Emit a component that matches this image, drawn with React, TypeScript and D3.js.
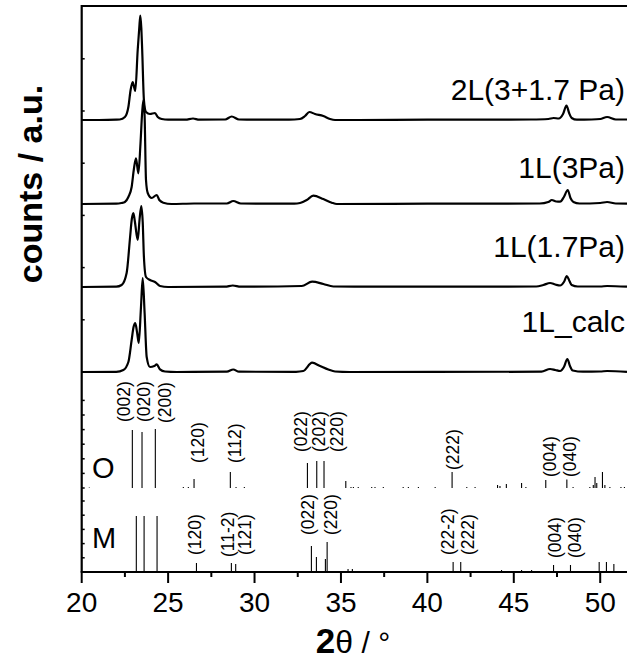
import React from "react";
import * as d3 from "d3";

// ---------- data ----------
// x axis (2θ / °)
const xTicksMajor = [20, 25, 30, 35, 40, 45, 50];
const xTicksMinor = [22.5, 27.5, 32.5, 37.5, 42.5, 47.5];

// measured patterns: [2θ, intensity (a.u.)]
const pattern2L: [number, number][] = [
  [20, 0], [21, 0], [22, 0.3], [22.2, 0.5], [22.5, 3], [22.7, 13], [22.83, 30], [22.95, 38], [23.1, 29],
  [23.24, 70], [23.33, 92], [23.39, 104.5], [23.45, 92], [23.5, 70], [23.6, 20], [23.72, 8], [23.95, 6],
  [24.24, 7], [24.4, 3], [24.63, 1], [25.0, 0.3], [26.0, 0.3], [26.44, 1.5], [26.8, 0.3], [28.3, 0.5],
  [28.68, 3.5], [29.1, 0.5], [30, 0.3], [32, 0.3], [32.63, 1], [32.92, 4], [33.17, 8], [33.5, 6],
  [33.98, 4], [34.37, 1], [34.66, 0], [36, 0], [40, 0.3], [44, 0.3], [46, 0.5], [47.0, 1], [47.3, 2],
  [47.6, 1.5], [47.85, 6], [48.05, 14.5], [48.2, 7], [48.35, 2], [48.65, 0.3], [49.5, 0.5], [50.0, 1],
  [50.4, 3], [50.9, 0.5], [51.55, 0.5],
];
const pattern1L3Pa: [number, number][] = [
  [20, 0], [22, 0.3], [22.3, 1], [22.5, 2], [22.7, 7], [22.89, 17], [23.02, 35], [23.14, 45.7],
  [23.28, 30.7], [23.4, 60], [23.5, 92], [23.57, 104], [23.64, 88], [23.72, 24], [23.82, 11],
  [24.05, 6], [24.34, 9], [24.49, 4], [24.72, 1.3], [25.2, 0], [26.5, 0.5], [28.4, 0.5], [28.77, 3],
  [29.2, 0.5], [32.3, 0.3], [32.63, 1], [33.02, 4], [33.4, 8.3], [33.98, 5], [34.47, 1.3], [34.76, 0],
  [40, 0.3], [46.5, 0.5], [47.0, 2], [47.2, 4], [47.45, 2.5], [47.68, 2.3], [47.9, 7], [48.12, 14],
  [48.28, 6], [48.45, 2], [48.8, 0.5], [50.0, 1], [50.4, 2], [50.9, 0.5], [51.55, 0.3],
];
const pattern1L17Pa: [number, number][] = [
  [20, 0], [22, 0.3], [22.31, 2], [22.6, 14], [22.8, 50], [22.9, 68], [22.99, 74], [23.08, 65],
  [23.24, 47], [23.35, 68], [23.45, 81], [23.53, 65], [23.6, 30], [23.72, 10], [23.95, 7], [24.24, 5],
  [24.53, 1], [25.0, 0], [28.3, 0.3], [28.74, 1.5], [29.2, 0.3], [32.73, 1], [33.33, 5.3], [33.98, 3],
  [34.56, 0.5], [40, 0.3], [46.3, 0.5], [46.71, 2], [47.1, 4], [47.4, 2.5], [47.68, 1.5], [47.9, 5],
  [48.07, 11], [48.22, 6], [48.35, 2], [48.7, 0.5], [50.0, 0.5], [50.4, 1], [51.55, 0.3],
];
const pattern1Lcalc: [number, number][] = [
  [20, 0], [22, 0.2], [22.41, 2], [22.7, 10], [22.89, 32], [23.0, 45], [23.1, 49], [23.2, 40],
  [23.3, 29], [23.43, 65], [23.53, 94], [23.64, 59], [23.76, 15], [23.95, 5], [24.2, 6], [24.34, 7.7],
  [24.53, 2.7], [24.82, 0.5], [25.5, 0], [28.4, 0.3], [28.77, 2.5], [29.1, 0.3], [32.4, 0.2],
  [32.82, 1], [33.33, 9.3], [33.79, 6], [34.27, 2.5], [34.66, 0.5], [35.5, 0], [46.6, 0.3], [47.1, 3],
  [47.4, 2], [47.68, 1], [47.9, 5], [48.1, 13], [48.25, 6], [48.41, 1.5], [49, 0.3], [50.0, 0.5],
  [50.4, 1], [51.55, 0.2],
];

const seriesNames = ["2L(3+1.7 Pa)", "1L(3Pa)", "1L(1.7Pa)", "1L_calc"];
const seriesData = [pattern2L, pattern1L3Pa, pattern1L17Pa, pattern1Lcalc];
const seriesOffsets = [252, 168, 85, 0];
const seriesLabelLevels = [272, 194, 115, 40];

// left axis ticks (one array per stacked layer)
const topTicks = [0, 52.2, 104.4, 156.6, 208.8, 261, 313.2];
const oTicks = [0, 14.6, 29.2, 43.8, 58.4, 73, 87.6];
const mTicks = [0, 14.2, 28.4, 42.6, 56.8, 71];

// reference reflections: [2θ, relative intensity]
const sticksO: [number, number][] = [
  [20.44, 0.6], [22.93, 58], [23.49, 56], [24.26, 59], [25.88, 1], [26.17, 1], [26.5, 9], [28.6, 16],
  [28.93, 1], [29.41, 1], [33.06, 25], [33.6, 27], [34.02, 27], [35.28, 7], [35.58, 1], [35.72, 1],
  [36.0, 1], [36.78, 1], [36.97, 1], [37.45, 1], [38.6, 1], [38.9, 1], [39.48, 1], [40.45, 1],
  [41.43, 16], [42.28, 1], [42.76, 1], [44.06, 3], [44.2, 2], [44.57, 4], [45.45, 5], [45.7, 1],
  [46.85, 8], [48.07, 8.5], [48.43, 1], [49.4, 1], [49.6, 3], [49.7, 11], [49.8, 5], [50.13, 16],
  [50.27, 3], [50.56, 1], [51.2, 1], [51.4, 1],
];
const sticksM: [number, number][] = [
  [23.16, 56], [23.61, 56], [24.36, 56], [26.64, 9], [28.66, 9], [28.91, 8], [33.29, 26], [33.58, 15],
  [34.1, 13], [34.2, 30], [35.41, 3], [35.66, 3], [41.49, 10], [41.93, 10], [44.29, 2], [44.87, 1],
  [45.45, 2], [46.03, 2], [47.3, 7], [48.28, 7], [49.94, 10], [50.36, 10], [50.79, 8],
];

// hkl labels: [text, 2θ of label, level of label start]
const hklO: [string, number, number][] = [
  ["(002)", 22.45, 66], ["(020)", 23.6, 66], ["(200)", 24.82, 65], ["(120)", 26.73, 25],
  ["(112)", 28.87, 25], ["(022)", 32.69, 36], ["(202)", 33.73, 36], ["(220)", 34.77, 36],
  ["(222)", 41.48, 18], ["(004)", 47.1, 11], ["(040)", 48.25, 11],
];
const hklM: [string, number, number][] = [
  ["(120)", 26.56, 17], ["(11-2)", 28.47, 15], ["(121)", 29.45, 17], ["(022)", 33.07, 37],
  ["(220)", 34.43, 37], ["(22-2)", 41.2, 17], ["(222)", 42.36, 17], ["(004)", 47.39, 14],
  ["(040)", 48.55, 14],
];
const phaseNames = ["O", "M"];

// ---------- chart ----------
const W = 627;
const H = 661;
const FONT = "'Liberation Sans', Arial, Helvetica, sans-serif";

export default function App() {
  const x = d3.scaleLinear().domain([20, 51.55]).range([81.7, 627]);
  const yTop = d3.scaleLinear().domain([0, 366]).range([372, 6]);
  const yO = d3.scaleLinear().domain([0, 100]).range([488, 388]);
  const yM = d3.scaleLinear().domain([0, 100]).range([572, 472]);
  const axisY = yM(0);
  const axisX = x(20);

  const lines = seriesData.map((data, i) =>
    d3
      .line<[number, number]>()
      .x((d) => x(d[0]))
      .y((d) => yTop(d[1] + seriesOffsets[i]))
      .curve(d3.curveMonotoneX)(data) as string
  );

  const stickPanels = [
    { sticks: sticksO, labels: hklO, y: yO, ticks: oTicks },
    { sticks: sticksM, labels: hklM, y: yM, ticks: mTicks },
  ];

  return (
    <svg
      width={W}
      height={H}
      viewBox={`0 0 ${W} ${H}`}
      style={{ position: "absolute", left: 0, top: 0, background: "#fff" }}
      fontFamily={FONT}
    >
      <rect x={0} y={0} width={W} height={H} fill="#fff" />
      <defs>
        <clipPath id="plotClip">
          <rect x={axisX} y={0} width={W - axisX} height={axisY} />
        </clipPath>
      </defs>

      {/* patterns */}
      <g clipPath="url(#plotClip)">
        {lines.map((d, i) => (
          <path key={i} d={d} fill="none" stroke="#000" strokeWidth={2.2} strokeLinejoin="round" />
        ))}
      </g>

      {/* series labels */}
      {seriesNames.map((n, i) => (
        <text key={n} x={625} y={yTop(seriesLabelLevels[i])} textAnchor="end" fontSize={30} fill="#000">
          {n}
        </text>
      ))}

      {/* stick patterns */}
      {stickPanels.map((p, pi) => (
        <g key={pi}>
          {p.sticks.map(([t, v], i) => (
            <line key={i} x1={x(t)} x2={x(t)} y1={p.y(0)} y2={p.y(v)} stroke="#000" strokeWidth={1.1} />
          ))}
          {p.labels.map(([s, t, lv], i) => (
            <text
              key={i}
              transform={`translate(${x(t)},${p.y(lv)}) rotate(-90)`}
              textAnchor="start"
              dominantBaseline="central"
              fontSize={17.5}
              fill="#000"
            >
              {s}
            </text>
          ))}
          <text x={92} y={p.y(pi === 0 ? 10 : 24)} fontSize={29} fill="#000">
            {phaseNames[pi]}
          </text>
          {p.ticks.map((v, i) => (
            <line key={"t" + i} x1={axisX} x2={axisX + 3} y1={p.y(v)} y2={p.y(v)} stroke="#000" strokeWidth={1.5} />
          ))}
        </g>
      ))}

      {/* top layer ticks */}
      {topTicks.map((v, i) => (
        <line key={i} x1={axisX} x2={axisX + 3} y1={yTop(v)} y2={yTop(v)} stroke="#000" strokeWidth={1.5} />
      ))}

      {/* frame */}
      <line x1={axisX} x2={W} y1={yTop(366)} y2={yTop(366)} stroke="#000" strokeWidth={2.2} />
      <line x1={axisX} x2={axisX} y1={yTop(366) - 1} y2={axisY} stroke="#000" strokeWidth={2.2} />
      <line x1={axisX - 1} x2={W} y1={axisY} y2={axisY} stroke="#000" strokeWidth={2.2} />

      {/* x ticks */}
      {xTicksMajor.map((t) => (
        <g key={t}>
          <line x1={x(t)} x2={x(t)} y1={axisY} y2={axisY + 11} stroke="#000" strokeWidth={2} />
          <text x={x(t)} y={axisY + 40} textAnchor="middle" fontSize={28} fill="#000">
            {t}
          </text>
        </g>
      ))}
      {xTicksMinor.map((t) => (
        <line key={t} x1={x(t)} x2={x(t)} y1={axisY} y2={axisY + 5} stroke="#000" strokeWidth={2} />
      ))}

      {/* axis titles */}
      <text x={353} y={653} textAnchor="middle" fill="#000">
        <tspan fontWeight="bold" fontSize={35}>2</tspan>
        <tspan fontSize={32}>θ</tspan>
        <tspan fontSize={30}> / °</tspan>
      </text>
      <text
        transform="translate(42,184) rotate(-90)"
        textAnchor="middle"
        fontWeight="bold"
        fontSize={34}
        fill="#000"
      >
        counts / a.u.
      </text>
    </svg>
  );
}
